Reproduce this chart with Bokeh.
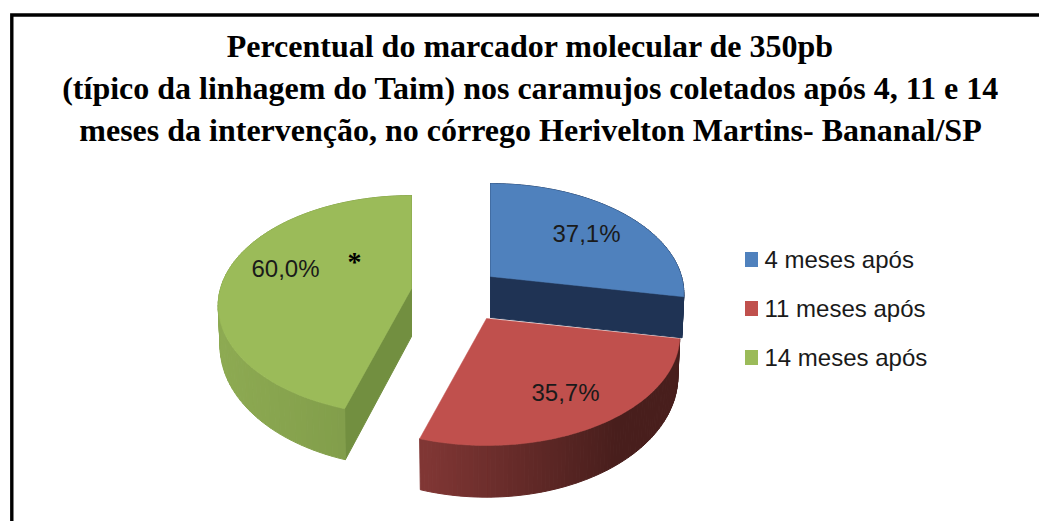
import numpy as np
from bokeh.plotting import figure
from bokeh.models import Range1d
from bokeh.core.properties import value
from bokeh.embed import file_html
from bokeh.resources import INLINE

# ---- data
title_lines = ["Percentual do marcador molecular de 350pb",
               "(típico da linhagem do Taim) nos caramujos coletados após 4, 11 e 14",
               "meses da intervenção, no córrego Herivelton Martins- Bananal/SP"]
legend_labels = ["4 meses após", "11 meses após", "14 meses após"]
values = [37.1, 35.7, 60.0]
value_labels = ["37,1%", "35,7%", "60,0%"]
top_colors = ["#4F81BD", "#C0504D", "#9BBB59"]

# ---- layout (page pixels)
W, H = 1039, 521
apex = {0: (490, 276), 1: (486, 318), 2: (411, 288)}
wall_depth = {0: 41, 1: 41, 2: 48}
label_pos = [(586, 233), (565, 392), (285, 268)]
legend_y = [259, 308, 357]
R, RY, A = 191.0, 107.3, 0.155   # perspective projection of the disc
D0, DK, XB = 39.0, 0.10, 0.99

p = figure(width=W, height=H, x_range=Range1d(0, W), y_range=Range1d(H, 0),
           toolbar_location=None, output_backend="svg", min_border=0,
           x_axis_location=None, y_axis_location=None,
           outline_line_color=None, background_fill_color="white", border_fill_color="white")
p.grid.visible = False

p.line([11.3, 11.3, 1039], [521, 14.5, 14.5], line_color="black", line_width=3.4, line_join="miter")

ys_title = [45, 87, 129]
p.text([530] * 3, ys_title, text=title_lines, text_align="center", text_baseline="middle",
       text_font=value("Liberation Serif"), text_font_style="bold", text_font_size="32px",
       text_color="black")


def project(theta):
    u, v = np.sin(theta), -np.cos(theta)
    den = 1 - A * v
    return R * u / den, RY * v / den


def mix(c0, c1, t):
    return "#%02x%02x%02x" % tuple(int(round(a + (b - a) * t)) for a, b in zip(c0, c1))


side_ramp = {0: ((31, 50, 84), (31, 50, 84)),
             1: ((128, 54, 52), (72, 30, 28)),
             2: ((141, 170, 82), (113, 140, 63))}
wall_color = {0: "#1F3354", 1: "#80363a", 2: "#728F40"}

angles = np.cumsum([0] + values) / np.sum(values) * 2 * np.pi
for i in (0, 2, 1):
    ax, ay = apex[i]
    t = np.linspace(angles[i], angles[i + 1], 90)
    X, Y = project(t)
    tx, ty = ax + X, ay + Y
    bx, by = ax + X * XB, ay + Y + D0 + DK * Y
    # outer wall, in strips shaded by horizontal position
    lo, hi = side_ramp[i]
    xs, ys, cols = [], [], []
    x0, x1 = (ax - R, ax + 120) if i == 2 else (ax - 60, ax + 130)
    for k in np.argsort(0.5 * (Y[:-1] + Y[1:])):
        xs.append([tx[k], tx[k + 1], bx[k + 1], bx[k]])
        ys.append([ty[k], ty[k + 1], by[k + 1], by[k]])
        s = float(np.clip((0.5 * (tx[k] + tx[k + 1]) - x0) / (x1 - x0), 0, 1))
        cols.append(mix(lo, hi, s))
    # radial walls
    d = wall_depth[i]
    if i != 1:
        p.patch([ax, tx[0], bx[0], ax], [ay, ty[0], by[0], ay + d], fill_color=wall_color[i], line_color=wall_color[i])
    p.patches(xs, ys, fill_color=cols, line_color=cols, line_width=1)
    if i != 1:
        p.patch([ax, tx[-1], bx[-1], ax], [ay, ty[-1], by[-1], ay + d], fill_color=wall_color[i], line_color=wall_color[i])
    # top face
    p.patch(np.r_[ax, tx], np.r_[ay, ty], fill_color=top_colors[i], line_color=top_colors[i], line_width=0.5)

p.text([q[0] for q in label_pos], [q[1] for q in label_pos], text=value_labels,
       text_align="center", text_baseline="middle", text_font=value("Liberation Sans"),
       text_font_size="24px", text_color="#1a1a1a")
p.text([354], [261], text=["*"], text_align="center", text_baseline="middle",
       text_font=value("Liberation Serif"), text_font_style="bold", text_font_size="28px", text_color="black")

p.rect([751] * 3, legend_y, width=13, height=15, fill_color=top_colors, line_color=None)
p.text([764] * 3, legend_y, text=legend_labels, text_align="left", text_baseline="middle",
       text_font=value("Liberation Sans"), text_font_size="24px", text_color="#1a1a1a")

open("out.html", "w").write(file_html(p, INLINE))
